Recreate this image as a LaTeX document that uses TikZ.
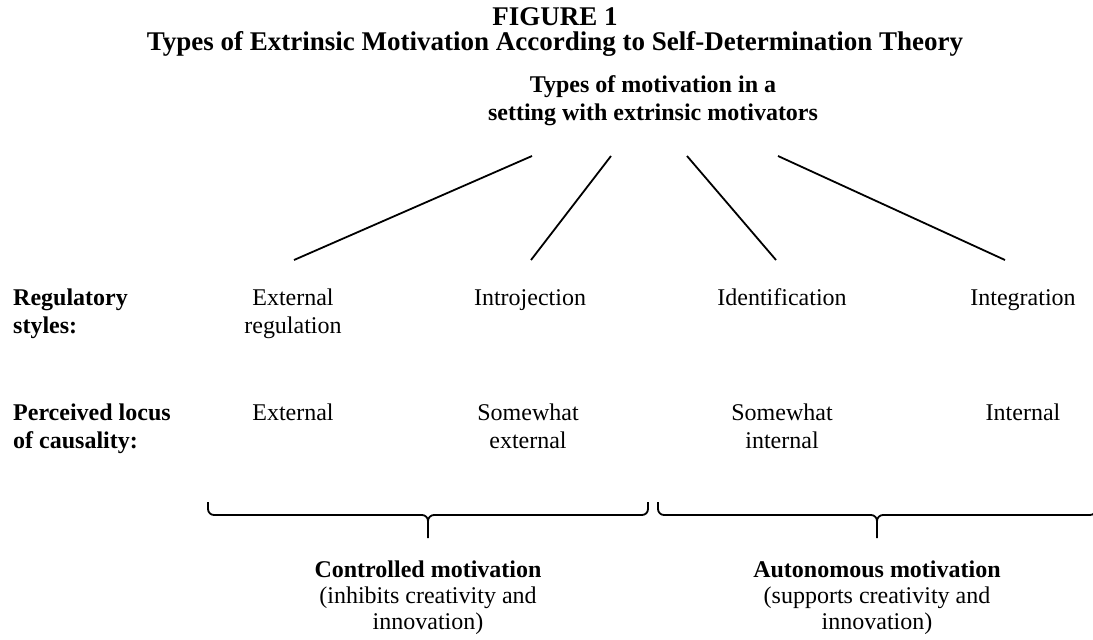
\documentclass[tikz,border=0pt]{standalone}
\usepackage{fontspec}
\setmainfont{Liberation Serif}
\usepackage{tikz}

\begin{document}
\begin{tikzpicture}[x=1pt,y=-1pt,
    ttl/.style={font=\fontsize{27}{30}\selectfont\bfseries,inner sep=0pt,anchor=base},
    hd/.style={font=\fontsize{24}{28}\selectfont\bfseries,inner sep=0pt,align=center,anchor=base},
    rowlbl/.style={font=\fontsize{24}{28}\selectfont\bfseries,inner sep=0pt,align=left,anchor=base west},
    lbl/.style={font=\fontsize{24}{28}\selectfont,inner sep=0pt,align=center,anchor=base},
    grp/.style={font=\fontsize{24}{26}\selectfont,inner sep=0pt,align=center,anchor=base}]
      \useasboundingbox (0,0) rectangle (1093,640);

      % (multi-line nodes sit on the baseline of their last line)
      \node[ttl] (fig) at (555,25) {FIGURE 1};
      \node[ttl] (title) at (555,50) {Types of Extrinsic Motivation According to Self-Determination Theory};
      \node[hd] (top) at (653,120) {Types of motivation in a\\setting with extrinsic motivators};

      % regulatory styles
      \node[rowlbl] (reg) at (13,333) {Regulatory\\styles:};
      \node[lbl] (ext) at (293,333) {External\\regulation};
      \node[lbl] (intro) at (530,305) {Introjection};
      \node[lbl] (ident) at (782,305) {Identification};
      \node[lbl] (integ) at (1023,305) {Integration};

      % locus of causality
      \node[rowlbl] (loc) at (13,448) {Perceived locus\\of causality:};
      \node[lbl] (lext) at (293,420) {External};
      \node[lbl] (lsext) at (528,448) {Somewhat\\external};
      \node[lbl] (lsint) at (782,448) {Somewhat\\internal};
      \node[lbl] (lint) at (1023,420) {Internal};

      \node[grp] (ctrl) at (428,629) {\textbf{Controlled motivation}\\(inhibits creativity and\\innovation)};
      \node[grp] (auto) at (877,629) {\textbf{Autonomous motivation}\\(supports creativity and\\innovation)};

      % lines from the top
      \coordinate (t1) at (532,156);
      \coordinate (t2) at (611,156);
      \coordinate (t3) at (687,156);
      \coordinate (t4) at (778,156);
      \coordinate (b1) at (294,260);
      \coordinate (b2) at (531,260);
      \coordinate (b3) at (776,260);
      \coordinate (b4) at (1005,260);
      \foreach \i in {1,2,3,4}
        \draw [line width=1.8pt] (t\i) -- (b\i);

      % braces
      \foreach \l/\m/\r in {208/428/648,658/877/1096}
      {
        \draw [line width=1.8pt] (\l,502) -- (\l,509) to[out=-90,in=180] (\l+6,515) -- (\m-6,515)
          to[out=0,in=90] (\m,521) -- (\m,538);
        \draw [line width=1.8pt] (\r,502) -- (\r,509) to[out=-90,in=0] (\r-6,515) -- (\m+6,515)
          to[out=180,in=90] (\m,521);
      }
    \end{tikzpicture}
\end{document}
